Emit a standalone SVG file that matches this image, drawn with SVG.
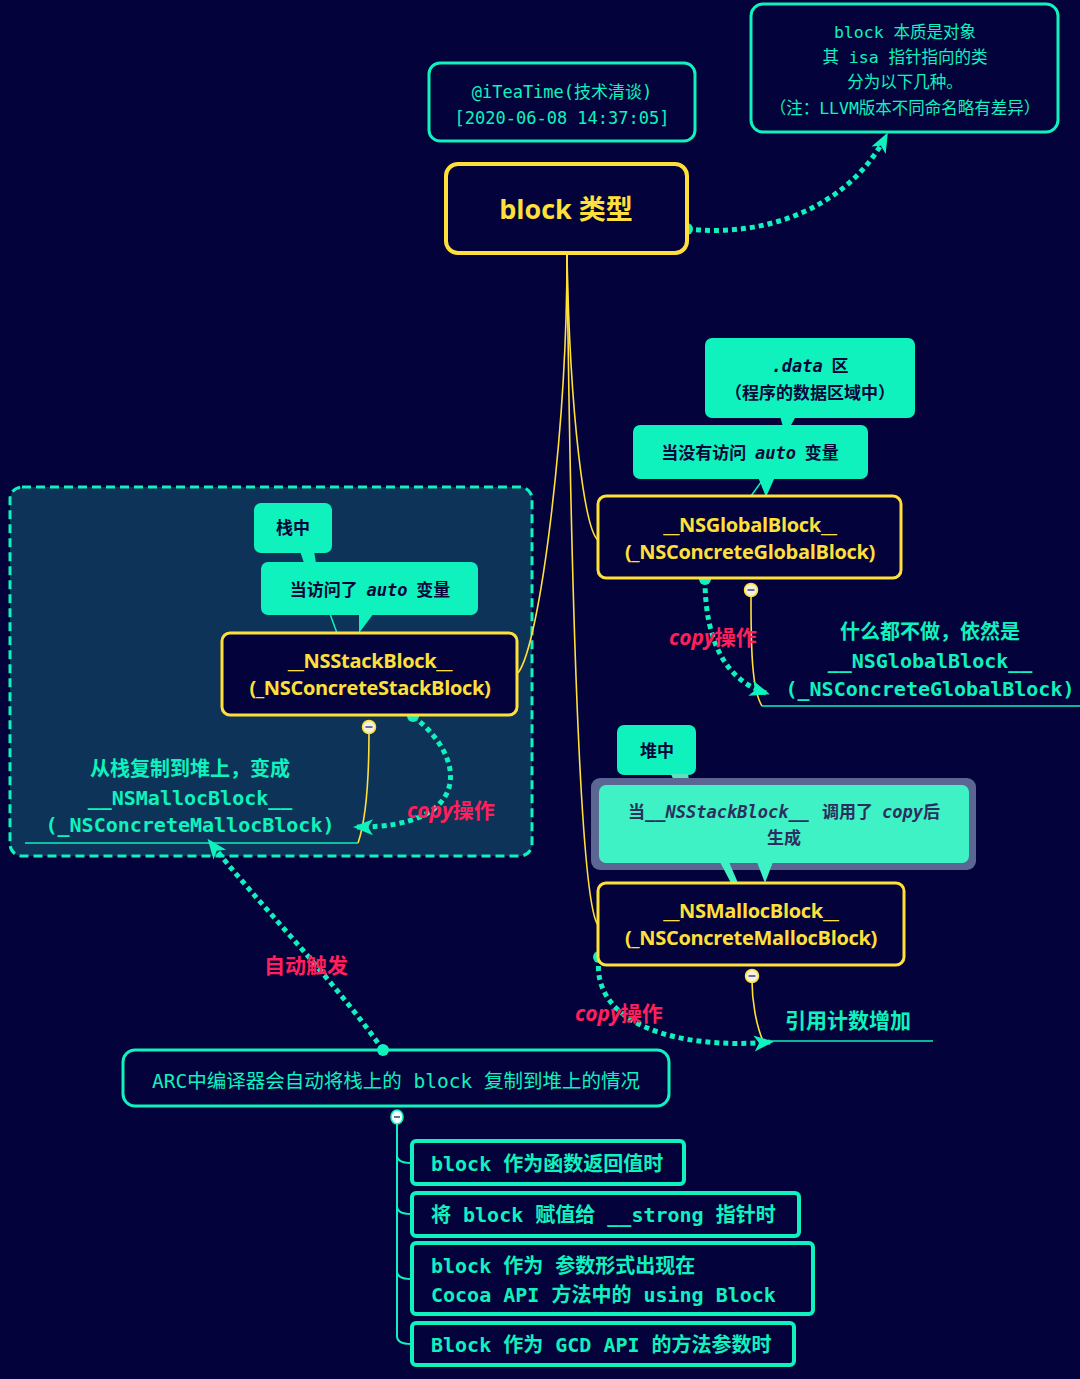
<svg xmlns="http://www.w3.org/2000/svg" width="1080" height="1379" viewBox="0 0 1080 1379">
<defs>
<style>
.mono{font-family:"DejaVu Sans Mono","Noto Sans CJK SC",monospace;}
.sans{font-family:"Open Sans","Noto Sans CJK SC",sans-serif;}
.tbox{fill:none;stroke:#0ff2be;stroke-width:3;}
.ybox{fill:#03023b;stroke:#ffe03a;stroke-width:3;}
.ytxt{fill:#ffe03a;font-weight:700;font-size:20px;text-anchor:middle;letter-spacing:-0.3px;}
.ttxt{fill:#0ff2be;text-anchor:middle;}
.call{fill:#0ff2be;}
.ctxt{fill:#07073a;font-weight:700;font-size:17px;text-anchor:middle;}
.red{fill:#ff1f5c;font-weight:700;font-size:21px;}
.tree{fill:none;stroke:#ffe03a;stroke-width:1.6;}
.dot{fill:none;stroke:#0ff2be;stroke-width:5;stroke-dasharray:5 4;}
.child{fill:#03023b;stroke:#0ff2be;stroke-width:4;}
.ctext{fill:#0ff2be;font-weight:700;font-size:20px;}
</style>
<marker id="ah" viewBox="0 0 20 20" refX="16" refY="10" markerWidth="20" markerHeight="20" markerUnits="userSpaceOnUse" orient="auto">
<path d="M0,2 L20,10 L0,18 L5,10 Z" fill="#0ff2be"/>
</marker>
</defs>
<rect x="0" y="0" width="1080" height="1379" fill="#03023b"/>

<g id="stack-group">
<rect x="10" y="487" width="522" height="369" rx="12" fill="#0d3358" stroke="#0ff2be" stroke-width="3" stroke-dasharray="9 5"/>
</g>

<g id="connectors">
<path class="tree" d="M567,255 C567,430 540,645 518,673"/>
<path class="tree" d="M567,255 C570,420 585,530 598,540"/>
<path class="tree" d="M567,255 C570,520 578,900 598,925"/>
<path class="tree" d="M751,584 L751,600 C751,650 752,690 762,706"/>
<line x1="762" y1="706" x2="1080" y2="706" stroke="#0ff2be" stroke-width="1.6"/>
<path class="tree" d="M369,732 C369,780 366,820 358,843"/>
<line x1="25" y1="843" x2="358" y2="843" stroke="#0ff2be" stroke-width="1.6"/>
<path class="tree" d="M752,981 C752,1000 756,1025 763,1041"/>
<line x1="763" y1="1041" x2="933" y2="1041" stroke="#0ff2be" stroke-width="1.6"/>
<path d="M397,1123 L397,1336 Q397,1344 411,1344" fill="none" stroke="#0ff2be" stroke-width="2"/>
<path d="M397,1155 Q397,1163 411,1163" fill="none" stroke="#0ff2be" stroke-width="2"/>
<path d="M397,1206 Q397,1214 411,1214" fill="none" stroke="#0ff2be" stroke-width="2"/>
<path d="M397,1271 Q397,1279 411,1279" fill="none" stroke="#0ff2be" stroke-width="2"/>
<path class="dot" d="M687,229 C770,238 850,205 886,136" marker-end="url(#ah)"/>
<path class="dot" d="M705,579 C705,640 725,680 766,693" marker-end="url(#ah)"/>
<path class="dot" d="M413,716 C470,760 470,828 357,827" marker-end="url(#ah)"/>
<path class="dot" d="M599,957 C590,1025 680,1050 770,1042" marker-end="url(#ah)"/>
<path class="dot" d="M383,1050 C330,975 255,900 210,842" marker-end="url(#ah)"/>
<circle cx="687" cy="229" r="6" fill="#0ff2be"/>
<circle cx="705" cy="579" r="6" fill="#0ff2be"/>
<circle cx="413" cy="716" r="6" fill="#0ff2be"/>
<circle cx="599" cy="957" r="6" fill="#0ff2be"/>
<circle cx="383" cy="1050" r="6" fill="#0ff2be"/>
<text class="red sans" x="669" y="645"><tspan font-style="italic">copy</tspan>操作</text>
<text class="red sans" x="407" y="818"><tspan font-style="italic">copy</tspan>操作</text>
<text class="red sans" x="575" y="1021"><tspan font-style="italic">copy</tspan>操作</text>
<text class="red sans" x="264" y="973">自动触发</text>
</g>

<g id="info">
<rect class="tbox" x="429" y="63" width="266" height="78" rx="11"/>
<text class="mono ttxt" x="562" y="98" font-size="17">@iTeaTime(技术清谈)</text>
<text class="mono ttxt" x="562" y="124" font-size="17">[2020-06-08 14:37:05]</text>
</g>

<g id="note">
<rect class="tbox" x="751" y="4" width="307" height="128" rx="12"/>
<text class="mono ttxt" x="905" y="38" font-size="16.5">block 本质是对象</text>
<text class="mono ttxt" x="905" y="63" font-size="16.5">其 isa 指针指向的类</text>
<text class="mono ttxt" x="905" y="88" font-size="16.5">分为以下几种。</text>
<text class="mono ttxt" x="905" y="114" font-size="16.5">（注：LLVM版本不同命名略有差异）</text>
</g>

<g id="root">
<rect x="446" y="164" width="241" height="89" rx="12" fill="#03023b" stroke="#ffe03a" stroke-width="4"/>
<text class="sans" x="566" y="219" font-size="27" font-weight="700" fill="#ffe03a" text-anchor="middle">block 类型</text>
</g>

<g id="global">
<rect class="call" x="705" y="338" width="210" height="80" rx="7"/>
<polygon class="call" points="780,416 796,416 790,427 783,427"/>
<text class="ctxt" x="810" y="372"><tspan class="mono" font-style="italic">.data</tspan><tspan class="sans">&#160; 区</tspan></text>
<text class="ctxt sans" x="810" y="399">（程序的数据区域中）</text>
<rect class="call" x="633" y="425" width="235" height="54" rx="7"/>
<polygon class="call" points="758,477 775,477 766,497"/>
<line x1="764" y1="478" x2="751" y2="496" stroke="#0ff2be" stroke-width="1.5"/>
<text class="ctxt sans" x="750" y="459">当没有访问&#160; <tspan class="mono" font-style="italic">auto</tspan>&#160; 变量</text>
<rect class="ybox" x="598" y="496" width="303" height="82" rx="8"/>
<text class="sans ytxt" x="750" y="532">__NSGlobalBlock__</text>
<text class="sans ytxt" x="750" y="559">(_NSConcreteGlobalBlock)</text>
<circle cx="751" cy="590" r="6.5" fill="#f4f0e0" stroke="#ffe03a" stroke-width="1.5"/>
<line x1="747.5" y1="590" x2="754.5" y2="590" stroke="#6a6f9a" stroke-width="2"/>
</g>

<g id="global-note">
<text class="mono ttxt" x="930" y="639" font-size="20" font-weight="700">什么都不做，依然是</text>
<text class="mono ttxt" x="930" y="668" font-size="20" font-weight="700">__NSGlobalBlock__</text>
<text class="mono ttxt" x="930" y="696" font-size="20" font-weight="700">(_NSConcreteGlobalBlock)</text>
</g>

<g id="stack">
<rect class="call" x="254" y="503" width="78" height="50" rx="7"/>
<polygon class="call" points="300,551 314,551 316,563 304,563"/>
<text class="ctxt sans" x="293" y="534">栈中</text>
<rect class="call" x="261" y="562" width="217" height="53" rx="7"/>
<polygon class="call" points="359,613 374,613 359,633"/>
<line x1="330" y1="614" x2="337" y2="633" stroke="#0ff2be" stroke-width="1.5"/>
<text class="ctxt sans" x="370" y="596">当访问了&#160; <tspan class="mono" font-style="italic">auto</tspan>&#160; 变量</text>
<rect class="ybox" x="222" y="633" width="295" height="82" rx="8" fill="#0d3358"/>
<text class="sans ytxt" x="370" y="668">__NSStackBlock__</text>
<text class="sans ytxt" x="370" y="695">(_NSConcreteStackBlock)</text>
<circle cx="369" cy="727" r="6.5" fill="#f4f0e0" stroke="#ffe03a" stroke-width="1.5"/>
<line x1="365.5" y1="727" x2="372.5" y2="727" stroke="#6a6f9a" stroke-width="2"/>
</g>

<g id="stack-note">
<text class="mono ttxt" x="190" y="776" font-size="20" font-weight="700">从栈复制到堆上，变成</text>
<text class="mono ttxt" x="190" y="805" font-size="20" font-weight="700">__NSMallocBlock__</text>
<text class="mono ttxt" x="190" y="832" font-size="20" font-weight="700">(_NSConcreteMallocBlock)</text>
</g>

<g id="malloc">
<rect class="call" x="617" y="725" width="79" height="50" rx="7"/>
<polygon points="671,774 688,774 690,786 676,786" fill="#5fe0c0"/>
<text class="ctxt sans" x="657" y="757">堆中</text>
<rect x="591" y="778" width="385" height="92" rx="9" fill="#5b6792"/>
<rect x="599" y="785" width="370" height="78" rx="7" fill="#3ff2c6"/>
<polygon points="720,862 729,862 738,883 731,883" fill="#3ff2c6"/>
<polygon points="757,862 773,862 765,883" fill="#3ff2c6"/>
<text x="784" y="818" fill="#2c2f5e" font-size="17" font-weight="700" text-anchor="middle" class="sans">当<tspan class="mono" font-style="italic">__NSStackBlock__</tspan>&#160;&#160; 调用了&#160; <tspan class="mono" font-style="italic">copy</tspan>后</text>
<text x="784" y="844" fill="#2c2f5e" font-size="17" font-weight="700" text-anchor="middle" class="sans">生成</text>
<rect class="ybox" x="598" y="883" width="306" height="82" rx="8"/>
<text class="sans ytxt" x="751" y="918">__NSMallocBlock__</text>
<text class="sans ytxt" x="751" y="945">(_NSConcreteMallocBlock)</text>
<circle cx="752" cy="976" r="6.5" fill="#f4f0e0" stroke="#ffe03a" stroke-width="1.5"/>
<line x1="748.5" y1="976" x2="755.5" y2="976" stroke="#6a6f9a" stroke-width="2"/>
</g>

<g id="malloc-note">
<text class="mono" x="785" y="1028" font-size="21" font-weight="700" fill="#0ff2be">引用计数增加</text>
</g>

<g id="arc">
<rect class="tbox" x="123" y="1050" width="546" height="56" rx="12"/>
<text class="mono ttxt" x="396" y="1088" font-size="19.5">ARC中编译器会自动将栈上的 block 复制到堆上的情况</text>
<ellipse cx="397" cy="1117" rx="6" ry="7" fill="#f0fff8" stroke="#0ff2be" stroke-width="1.5"/>
<line x1="394" y1="1117" x2="400" y2="1117" stroke="#6a6f9a" stroke-width="2"/>
</g>

<g id="c1">
<rect class="child" x="412" y="1141" width="272" height="43" rx="4"/>
<text class="mono ctext" x="431" y="1171">block 作为函数返回值时</text>
</g>
<g id="c2">
<rect class="child" x="412" y="1193" width="387" height="43" rx="4"/>
<text class="mono ctext" x="431" y="1222">将 block 赋值给 __strong 指针时</text>
</g>
<g id="c3">
<rect class="child" x="412" y="1243" width="401" height="71" rx="4"/>
<text class="mono ctext" x="431" y="1273">block 作为 参数形式出现在</text>
<text class="mono ctext" x="431" y="1302">Cocoa API 方法中的 using Block</text>
</g>
<g id="c4">
<rect class="child" x="412" y="1323" width="382" height="42" rx="4"/>
<text class="mono ctext" x="431" y="1352">Block 作为 GCD API 的方法参数时</text>
</g>
</svg>
